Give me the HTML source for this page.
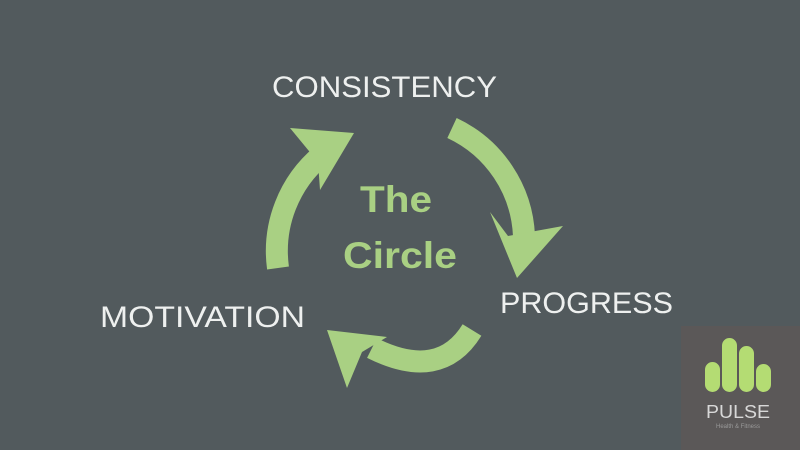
<!DOCTYPE html>
<html><head><meta charset="utf-8"><style>
html,body{margin:0;padding:0;background:#525a5d;}
svg{display:block}
</style></head><body>
<svg width="800" height="450" viewBox="0 0 800 450" xmlns="http://www.w3.org/2000/svg">
<rect width="800" height="450" fill="#525a5d"/>
<g fill="none" stroke="#a9d083" stroke-width="22">
<path d="M452,128 A125,125 0 0 1 524,236"/>
<path d="M278,268 A125,125 0 0 1 322,155"/>
<path d="M472,330 Q440,382 372,348"/>
</g>
<g fill="#a9d083">
<polygon points="490,212 508,236 563,226 517,278"/>
<polygon points="290,128 354,133 320,190 318,162"/>
<polygon points="327,330 387,337 362,352 347,388"/>
</g>
<g font-family="Liberation Sans, sans-serif" fill="#eef0ef" font-size="30">
<text x="272" y="97" textLength="225" lengthAdjust="spacingAndGlyphs">CONSISTENCY</text>
<text x="100" y="327" textLength="205" lengthAdjust="spacingAndGlyphs">MOTIVATION</text>
<text x="500" y="313" textLength="173" lengthAdjust="spacingAndGlyphs">PROGRESS</text>
</g>
<g font-family="Liberation Sans, sans-serif" fill="#a9d083" font-size="37" font-weight="bold">
<text x="360" y="212" textLength="72" lengthAdjust="spacingAndGlyphs">The</text>
<text x="343" y="268" textLength="114" lengthAdjust="spacingAndGlyphs">Circle</text>
</g>
<rect x="681" y="326" width="119" height="124" fill="#5b5858"/>
<g fill="#b4dc73">
<rect x="705" y="362" width="15" height="30" rx="7.5"/>
<rect x="722" y="338" width="15" height="54" rx="7.5"/>
<rect x="739" y="346" width="15" height="46" rx="7.5"/>
<rect x="756" y="364" width="15" height="28" rx="7.5"/>
</g>
<text x="738" y="418" text-anchor="middle" font-family="Liberation Sans, sans-serif" font-size="18" fill="#d8d8d8" textLength="64" lengthAdjust="spacingAndGlyphs">PULSE</text>
<text x="738" y="428" text-anchor="middle" font-family="Liberation Sans, sans-serif" font-size="6" fill="#9a9a9a">Health &amp; Fitness</text>
</svg>
</body></html>
